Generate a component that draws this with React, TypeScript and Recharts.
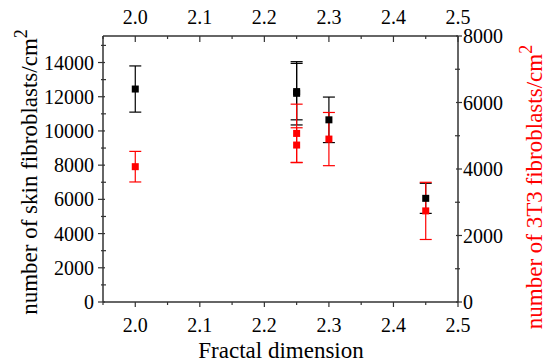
import { ScatterChart, Scatter, XAxis, YAxis, ErrorBar } from 'recharts';

// skin fibroblasts (left axis, black)
const skinX = [2.0, 2.25, 2.25, 2.3, 2.45];
const skinCount = [12450, 12200, 12300, 10650, 6060];
const skinErr = [1350, 1850, 1650, 1330, 880];

// 3T3 fibroblasts (right axis, red)
const t3X = [2.0, 2.25, 2.25, 2.3, 2.45];
const t3Count = [4070, 5070, 4720, 4900, 2740];
const t3Err = [460, 880, 520, 800, 860];

const xTicks = [1.95, 2.0, 2.05, 2.1, 2.15, 2.2, 2.25, 2.3, 2.35, 2.4, 2.45, 2.5];
const leftTicks = [0, 1000, 2000, 3000, 4000, 5000, 6000, 7000, 8000, 9000, 10000, 11000, 12000, 13000, 14000, 15000];
const rightTicks = [0, 1000, 2000, 3000, 4000, 5000, 6000, 7000, 8000];

const skinData = skinX.map((x, i) => ({ x, y: skinCount[i], err: skinErr[i] }));
const t3Data = t3X.map((x, i) => ({ x, y: t3Count[i], err: t3Err[i] }));

const FONT = '"Liberation Serif", "DejaVu Serif", serif';
const AXIS = '#333';
const RED = '#ff0000';
const tickText = { style: { fontFamily: FONT, fontSize: 20 }, fill: '#000' };

const isMajorX = (v: number) => Math.abs(v * 10 - Math.round(v * 10)) < 1e-6;
const isMajorY = (v: number) => v % 2000 === 0;

const LeftTick = ({ x, y, payload }: any) => {
  const major = isMajorY(payload.value);
  return (
    <g>
      <line x1={x - (major ? 5 : 2)} x2={x + (major ? 2 : 3)} y1={y} y2={y} stroke={AXIS} strokeWidth={1.2} />
      {major && <text x={x - 9} y={y} dy="0.35em" textAnchor="end" {...tickText}>{payload.value}</text>}
    </g>
  );
};

const RightTick = ({ x, y, payload }: any) => {
  const major = isMajorY(payload.value);
  return (
    <g>
      <line x1={x - (major ? 2 : 3)} x2={x + (major ? 4 : 2)} y1={y} y2={y} stroke={AXIS} strokeWidth={1.2} />
      {major && <text x={x + 5} y={y} dy="0.35em" textAnchor="start" {...tickText}>{payload.value}</text>}
    </g>
  );
};

const BottomTick = ({ x, y, payload }: any) => {
  const major = isMajorX(payload.value);
  return (
    <g>
      <line x1={x} x2={x} y1={y} y2={y + (major ? 5 : 3)} stroke={AXIS} strokeWidth={1.2} />
      {major && <text x={x} y={y + 30} textAnchor="middle" {...tickText}>{payload.value.toFixed(1)}</text>}
    </g>
  );
};

const TopTick = ({ x, y, payload }: any) => {
  const major = isMajorX(payload.value);
  return (
    <g>
      <line x1={x} x2={x} y1={y} y2={y + (major ? 6 : 3)} stroke={AXIS} strokeWidth={1.2} />
      {major && <text x={x} y={y - 12} textAnchor="middle" {...tickText}>{payload.value.toFixed(1)}</text>}
    </g>
  );
};

const square = (color: string) => (props: any) => (
  <rect x={props.cx - 3.5} y={props.cy - 3.5} width={7} height={7} fill={color} />
);

const titleStyle = { fontFamily: FONT, fontSize: 23 };

const leftTitle = () => (
  <text transform="rotate(-90)" x={-172} y={37} textAnchor="middle" style={titleStyle} fill="#000">
    number of skin fibroblasts/cm<tspan dy={-10} style={{ fontSize: 18 }}>2</tspan>
  </text>
);

const rightTitle = () => (
  <text transform="rotate(-90)" x={-187} y={542} textAnchor="middle" style={titleStyle} fill={RED}>
    number of 3T3 fibroblasts/cm<tspan dy={-10} style={{ fontSize: 18 }}>2</tspan>
  </text>
);

const xTitle = () => (
  <text x={281} y={358} textAnchor="middle" style={titleStyle} fill="#000">
    Fractal dimension
  </text>
);

export default function App() {
  return (
    <div style={{ position: 'absolute', left: 0, top: 0, width: 551, height: 363, background: '#fff' }}>
      <ScatterChart width={551} height={363} margin={{ top: 0, right: 0, bottom: 0, left: 0 }}>
        <XAxis
          xAxisId="bottom"
          dataKey="x"
          type="number"
          domain={[1.95, 2.5]}
          allowDataOverflow
          ticks={xTicks}
          interval={0}
          height={61}
          tickSize={0}
          tickMargin={0}
          tickLine={false}
          tick={BottomTick}
          axisLine={{ stroke: AXIS, strokeWidth: 1.5 }}
          label={xTitle}
        />
        <XAxis
          xAxisId="top"
          orientation="top"
          dataKey="x"
          type="number"
          domain={[1.95, 2.5]}
          allowDataOverflow
          ticks={xTicks}
          interval={0}
          height={36}
          tickSize={0}
          tickMargin={0}
          tickLine={false}
          tick={TopTick}
          axisLine={{ stroke: AXIS, strokeWidth: 1.5 }}
        />
        <YAxis
          yAxisId="left"
          dataKey="y"
          type="number"
          domain={[0, 15550]}
          allowDataOverflow
          ticks={leftTicks}
          interval={0}
          width={103}
          tickSize={0}
          tickMargin={0}
          tickLine={false}
          tick={LeftTick}
          axisLine={{ stroke: AXIS, strokeWidth: 1.5 }}
          label={leftTitle}
        />
        <YAxis
          yAxisId="right"
          orientation="right"
          dataKey="y"
          type="number"
          domain={[0, 8000]}
          allowDataOverflow
          ticks={rightTicks}
          interval={0}
          width={93}
          tickSize={0}
          tickMargin={0}
          tickLine={false}
          tick={RightTick}
          axisLine={{ stroke: AXIS, strokeWidth: 1.5 }}
          label={rightTitle}
        />
        <Scatter
          data={skinData}
          xAxisId="bottom"
          yAxisId="left"
          shape={square('#000')}
          isAnimationActive={false}
        >
          <ErrorBar dataKey="err" direction="y" width={6} stroke="#000" strokeWidth={1.2} isAnimationActive={false} />
        </Scatter>
        <Scatter
          data={t3Data}
          xAxisId="top"
          yAxisId="right"
          shape={square(RED)}
          isAnimationActive={false}
        >
          <ErrorBar dataKey="err" direction="y" width={6} stroke={RED} strokeWidth={1.2} isAnimationActive={false} />
        </Scatter>
      </ScatterChart>
    </div>
  );
}
